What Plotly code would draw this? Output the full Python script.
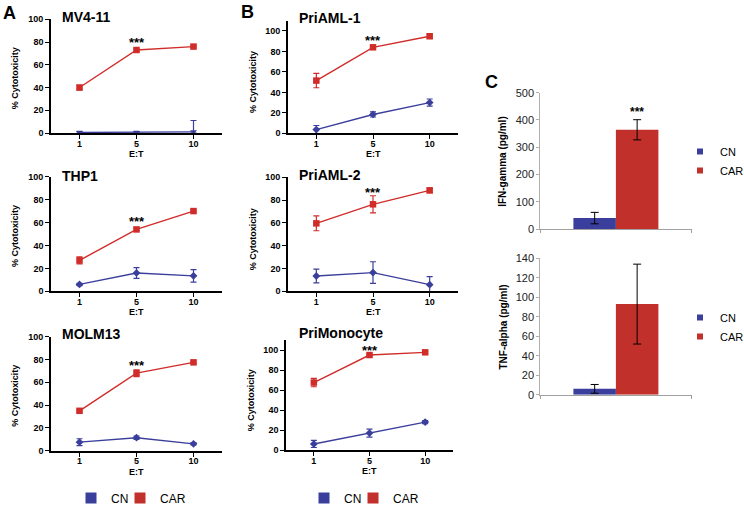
import plotly.graph_objects as go

W, H = 744, 506

# ---------------- data ----------------
et = ['1', '5', '10']

mv411_car = [40, 73, 76]
mv411_car_err = [2, 1, 1]
mv411_cn = [0.5, 0.5, 1]
mv411_cn_err_up = [1, 1, 10]
mv411_cn_err_dn = [0.5, 0.5, 1]

thp1_car = [27, 54, 70]
thp1_car_err = [3, 1, 1]
thp1_cn = [6, 16, 13.5]
thp1_cn_err = [1, 4.7, 5.5]

molm13_car = [35, 68, 77.5]
molm13_car_err = [1, 3, 1]
molm13_cn = [7.5, 11.4, 6]
molm13_cn_err = [3, 1.5, 1]

pri1_car = [51.5, 84, 94.8]
pri1_car_err = [7, 1.5, 1.5]
pri1_cn = [3.6, 18.4, 30]
pri1_cn_err = [4, 2.5, 3.5]

pri2_car = [59.6, 76.3, 88.5]
pri2_car_err = [6.5, 7.5, 2]
pri2_cn = [13.4, 16.4, 5.8]
pri2_cn_err = [6, 9.5, 7]

mono_car = [67.6, 95, 97.7]
mono_car_err = [4.2, 1, 1]
mono_cn = [6.3, 17.2, 28.1]
mono_cn_err = [3.5, 4, 1.5]

sig_lines = ['***', '***', '***', '***', '***', '***']
sig_at = '5'
sig_y = [80, 61, 75, 91, 87, 100]

bar_cat = ['']
ifn_cn = [40]
ifn_cn_err = [21]
ifn_car = [364]
ifn_car_err = [37]
tnf_cn = [6]
tnf_cn_err = [4.5]
tnf_car = [93]
tnf_car_err = [41]
bar_sig = ['***', '*']
bar_sig_y = [430, 143]

BLUE = '#3b3f9c'
RED = '#d02c2a'
BAR_BLUE = '#3a3f9d'
BAR_RED = '#c1302a'
FONT = 'Arial, Liberation Sans, sans-serif'


def fx(px):
    return px / W


def fy(py):
    return 1 - py / H


fig = go.Figure()
layout = dict(
    width=W, height=H, margin=dict(l=0, r=0, t=0, b=0, autoexpand=False),
    paper_bgcolor='white', plot_bgcolor='white',
    font=dict(family=FONT, color='black'),
    showlegend=True, bargap=0.438,
    annotations=[],
)

# line panels: (name, x0, x1, ytop, ybot, yrange, car, car_err, cn, cn_err_up, cn_err_dn, cn_symbol, title_dx, title_dy)
panels = [
    ('MV4-11', 51, 222, 19.3, 133, 100, mv411_car, mv411_car_err, mv411_cn, mv411_cn_err_up, mv411_cn_err_dn, 'triangle-down', 9, -2),
    ('THP1', 51, 222, 176.7, 291.3, 100, thp1_car, thp1_car_err, thp1_cn, thp1_cn_err, thp1_cn_err, 'diamond', 9, -1),
    ('MOLM13', 51, 222, 336.7, 450.7, 100, molm13_car, molm13_car_err, molm13_cn, molm13_cn_err, molm13_cn_err, 'diamond', 9, -3),
    ('PriAML-1', 288, 458, 20.7, 133.3, 110, pri1_car, pri1_car_err, pri1_cn, pri1_cn_err, pri1_cn_err, 'diamond', 9, -3),
    ('PriAML-2', 288, 458, 177.3, 291.3, 100, pri2_car, pri2_car_err, pri2_cn, pri2_cn_err, pri2_cn_err, 'diamond', 9, -2),
    ('PriMonocyte', 286, 453, 340, 450.3, 110, mono_car, mono_car_err, mono_cn, mono_cn_err, mono_cn_err, 'diamond', 11, -7),
]

for i, (name, x0, x1, yt, yb, yr, car, car_e, cn, cn_eu, cn_ed, sym, tdx, tdy) in enumerate(panels):
    n = i + 1
    xa = 'x' if n == 1 else f'x{n}'
    ya = 'y' if n == 1 else f'y{n}'
    fig.add_trace(go.Scatter(
        x=et, y=cn, xaxis=xa, yaxis=ya, mode='lines+markers', showlegend=False,
        line=dict(color=BLUE, width=1.4), marker=dict(color=BLUE, size=6, symbol=sym),
        error_y=dict(type='data', array=cn_eu, arrayminus=cn_ed, symmetric=False,
                     color=BLUE, thickness=1.2, width=3),
        cliponaxis=False))
    fig.add_trace(go.Scatter(
        x=et, y=car, xaxis=xa, yaxis=ya, mode='lines+markers', showlegend=False,
        line=dict(color=RED, width=1.4), marker=dict(color=RED, size=6.5, symbol='square'),
        error_y=dict(type='data', array=car_e, color=RED, thickness=1.2, width=3),
        cliponaxis=False))
    axkey = 'xaxis' if n == 1 else f'xaxis{n}'
    aykey = 'yaxis' if n == 1 else f'yaxis{n}'
    layout[axkey] = dict(
        domain=[fx(x0), fx(x1)], anchor=ya, type='category', range=[-0.5, 2.5],
        showline=True, linecolor='black', linewidth=1.6, ticks='outside', ticklen=4,
        tickwidth=1.2, tickcolor='black', showgrid=False, zeroline=False, ticklabelstandoff=-3,
        tickfont=dict(size=9, weight='bold', family=FONT))
    layout[aykey] = dict(
        domain=[fy(yb), fy(yt)], anchor=xa, range=[0, yr], tickvals=[0, 20, 40, 60, 80, 100],
        showline=True, linecolor='black', linewidth=1.6, ticks='outside', ticklen=4,
        tickwidth=1.2, tickcolor='black', showgrid=False, zeroline=False,
        tickfont=dict(size=9, weight='bold', family=FONT))
    # panel title
    layout['annotations'].append(dict(
        text=f'<b>{name}</b>', xref='paper', yref='paper', x=fx(x0 + tdx), y=fy(yt + tdy),
        xanchor='left', yanchor='middle', showarrow=False, font=dict(size=14)))
    # E:T
    layout['annotations'].append(dict(
        text='<b>E:T</b>', xref='paper', yref='paper', x=fx((x0 + x1) / 2), y=fy(yb + 21),
        xanchor='center', yanchor='middle', showarrow=False, font=dict(size=9)))
    # y title
    layout['annotations'].append(dict(
        text='<b>% Cytotoxicity</b>', xref='paper', yref='paper', x=fx(x0 - 36 if n <= 3 else x0 - 35),
        y=fy((yt + yb) / 2 + 2 if n <= 3 else (yt + yb) / 2 + 5), textangle=-90,
        xanchor='center', yanchor='middle', showarrow=False, font=dict(size=9)))
    # significance (category axis annotations use the category index)
    layout['annotations'].append(dict(
        text=f'<b>{sig_lines[i]}</b>', xref=xa, yref=ya, x=et.index(sig_at), y=sig_y[i],
        xanchor='center', yanchor='middle', showarrow=False, font=dict(size=13)))

# legend proxies for bottom legends (one legend per entry for exact spacing)
bottom_legends = [
    ('legend', 'x3', 'y3', 'CN', BLUE, 71),
    ('legend2', 'x3', 'y3', 'CAR', BAR_RED, 120),
    ('legend3', 'x6', 'y6', 'CN', BLUE, 304),
    ('legend4', 'x6', 'y6', 'CAR', BAR_RED, 353),
]
for lg, xa, ya, nm, col, lx in bottom_legends:
    fig.add_trace(go.Scatter(
        x=[None], y=[None], xaxis=xa, yaxis=ya, mode='markers', name=nm, legend=lg,
        marker=dict(symbol='square', size=11, color=col), showlegend=True))
    layout[lg] = dict(orientation='h', x=fx(lx), y=fy(498), xanchor='left', yanchor='middle',
                      font=dict(size=12), bgcolor='rgba(0,0,0,0)', itemwidth=30)

# bar panels
bar_panels = [
    ('IFN-gamma (pg/ml)', 92.7, 229, 500, 100, ifn_cn, ifn_cn_err, ifn_car, ifn_car_err, 'legend5', 161),
    ('TNF-alpha (pg/ml)', 258.3, 394.7, 140, 20, tnf_cn, tnf_cn_err, tnf_car, tnf_car_err, 'legend6', 327),
]
for j, (ttl, yt, yb, yr, dt, cn, cn_e, car, car_e, lg, lgy) in enumerate(bar_panels):
    n = 7 + j
    xa, ya = f'x{n}', f'y{n}'
    fig.add_trace(go.Bar(
        x=bar_cat, y=cn, xaxis=xa, yaxis=ya, name='CN', showlegend=False,
        marker=dict(color=BAR_BLUE, line=dict(width=0)),
        error_y=dict(type='data', array=cn_e, color='black', thickness=1, width=4)))
    fig.add_trace(go.Bar(
        x=bar_cat, y=car, xaxis=xa, yaxis=ya, name='CAR', showlegend=False,
        marker=dict(color=BAR_RED, line=dict(width=0)),
        error_y=dict(type='data', array=car_e, color='black', thickness=1, width=4)))
    for nm, col in [('CN', BAR_BLUE), ('CAR', BAR_RED)]:
        fig.add_trace(go.Scatter(
            x=[None], y=[None], xaxis=xa, yaxis=ya, mode='markers', name=nm, legend=lg,
            marker=dict(symbol='square', size=6, color=col), showlegend=True))
    layout[f'xaxis{n}'] = dict(
        domain=[fx(540.3), fx(691.5)], anchor=ya, type='category', range=[-0.5, 0.5],
        showline=True, linecolor='#a0a0a0', linewidth=1, ticks='outside', tickson='boundaries',
        ticklen=3, tickcolor='#a0a0a0', showticklabels=False, showgrid=False, zeroline=False)
    layout[f'yaxis{n}'] = dict(
        domain=[fy(yb), fy(yt)], anchor=xa, range=[0, yr], dtick=dt,
        showline=True, linecolor='#b0b0b0', linewidth=1, ticks='outside', ticklen=3,
        tickcolor='#b0b0b0', showgrid=False, zeroline=False,
        tickfont=dict(size=11, color='#222222', family=FONT))
    layout[lg] = dict(orientation='v', x=fx(680), y=fy(lgy), xanchor='left', yanchor='middle',
                      font=dict(size=11), bgcolor='rgba(0,0,0,0)', itemwidth=30, tracegroupgap=0)
    layout['annotations'].append(dict(
        text=f'<b>{ttl}</b>', xref='paper', yref='paper', x=fx(503), y=fy((yt + yb) / 2),
        textangle=-90, xanchor='center', yanchor='middle', showarrow=False, font=dict(size=10)))
    layout['annotations'].append(dict(
        text=f'<b>{bar_sig[j]}</b>', xref='paper', yref=ya, x=fx(637), y=bar_sig_y[j],
        xanchor='center', yanchor='middle', showarrow=False, font=dict(size=12)))

# panel letters
for letter, px, py in [('A', 9, 13), ('B', 247, 12), ('C', 491, 82)]:
    layout['annotations'].append(dict(
        text=f'<b>{letter}</b>', xref='paper', yref='paper', x=fx(px), y=fy(py),
        xanchor='center', yanchor='middle', showarrow=False, font=dict(size=18)))

fig.update_layout(**layout)
fig.write_html('out.html', config={'displayModeBar': False},
               post_script="document.body.style.margin='0';document.body.style.overflow='hidden';")
